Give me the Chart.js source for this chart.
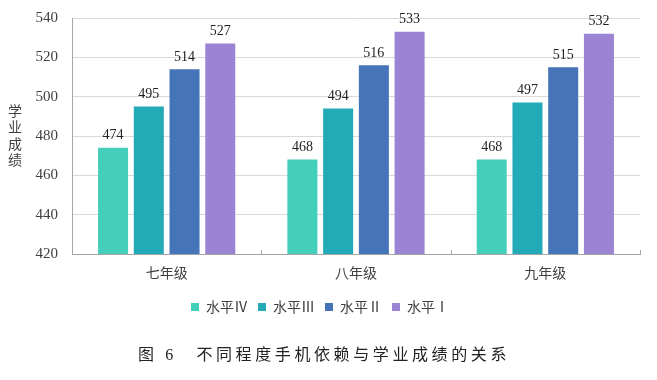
<!DOCTYPE html>
<html>
<head>
<meta charset="utf-8">
<script src="https://cdn.jsdelivr.net/npm/chart.js@4"></script>
<style>
html,body{margin:0;padding:0;background:#fff;}
#wrap{width:657px;height:380px;position:relative;}
</style>
</head>
<body>
<div id="wrap"><canvas id="c" width="657" height="380"></canvas></div>
<script>
const categories = ['七年级', '八年级', '九年级'];
const seriesNames = ['水平Ⅳ', '水平Ⅲ', '水平Ⅱ', '水平Ⅰ'];
const level4 = [474, 468, 468];
const level3 = [495, 494, 497];
const level2 = [514, 516, 515];
const level1 = [527, 533, 532];
const yTicks = [420, 440, 460, 480, 500, 520, 540];
const colors = ['#44CFBA', '#23AAB7', '#4674B8', '#9B84D4'];
const yAxisTitle = ['学', '业', '成', '绩'];
const chartTitle = '图 6　不同程度手机依赖与学业成绩的关系';

const FONT = "'Liberation Serif', 'Noto Sans CJK SC', serif";
const CJK = "'Noto Sans CJK SC', 'Liberation Serif', sans-serif";
const TEXT = '#404040';

const valueLabels = {
  id: 'valueLabels',
  afterDatasetsDraw(chart) {
    const ctx = chart.ctx;
    ctx.save();
    ctx.font = '14px ' + FONT;
    ctx.fillStyle = '#222';
    ctx.textAlign = 'center';
    ctx.textBaseline = 'bottom';
    chart.data.datasets.forEach((ds, i) => {
      const meta = chart.getDatasetMeta(i);
      meta.data.forEach((el, j) => {
        ctx.fillText(String(ds.data[j]), el.x, el.y - 5);
      });
    });
    ctx.restore();
  }
};

const extras = {
  id: 'extras',
  afterDraw(chart) {
    const ctx = chart.ctx;
    const xs = chart.scales.x;
    ctx.save();
    // category separator ticks (inside)
    ctx.strokeStyle = '#a6a6a6';
    ctx.lineWidth = 1;
    for (let i = 0; i <= categories.length; i++) {
      const px = Math.round(xs.getPixelForValue(i - 0.5)) + 0.5;
      ctx.beginPath();
      ctx.moveTo(px, xs.top);
      ctx.lineTo(px, xs.top - 4);
      ctx.stroke();
    }
    // vertical y-axis title
    ctx.font = '14px ' + CJK;
    ctx.fillStyle = TEXT;
    ctx.textAlign = 'center';
    ctx.textBaseline = 'middle';
    const mid = (chart.chartArea.top + chart.chartArea.bottom) / 2;
    const step = 16.5;
    yAxisTitle.forEach((ch, k) => {
      ctx.fillText(ch, 15, mid - 1 + (k - (yAxisTitle.length - 1) / 2) * step);
    });
    // figure caption
    ctx.font = '16px ' + FONT;
    ctx.fillStyle = '#222';
    ctx.letterSpacing = '3.6px';
    ctx.textAlign = 'center';
    ctx.textBaseline = 'middle';
    ctx.fillText(chartTitle, 324, 356);
    ctx.restore();
  }
};

new Chart(document.getElementById('c'), {
  type: 'bar',
  data: {
    labels: categories,
    datasets: [level4, level3, level2, level1].map((d, i) => ({
      label: seriesNames[i],
      data: d,
      backgroundColor: colors[i],
      borderWidth: 0,
      barPercentage: 0.84,
      categoryPercentage: 0.755
    }))
  },
  options: {
    responsive: false,
    animation: false,
    devicePixelRatio: 1,
    layout: { padding: { left: 0, right: 17, top: 18, bottom: 56 } },
    plugins: {
      legend: {
        position: 'bottom',
        labels: {
          boxWidth: 8,
          boxHeight: 8,
          padding: 10,
          color: TEXT,
          font: { family: CJK, size: 14 }
        }
      },
      title: { display: false },
      tooltip: { enabled: false }
    },
    scales: {
      x: {
        grid: { display: false },
        border: { display: true, color: '#a6a6a6' },
        ticks: { color: TEXT, font: { family: CJK, size: 14 }, padding: 2 },
        afterFit(s) { s.height = 36; }
      },
      y: {
        min: 420,
        max: 540,
        afterBuildTicks(s) { s.ticks = yTicks.map(v => ({ value: v })); },
        grid: { color: '#d9d9d9', drawTicks: false },
        border: { display: true, color: '#a6a6a6' },
        ticks: { color: TEXT, font: { family: FONT, size: 15 }, padding: 14 },
        afterFit(s) { s.width = 72; s.paddingTop = 0; s.paddingBottom = 0; }
      }
    }
  },
  plugins: [valueLabels, extras]
});
</script>
</body>
</html>
